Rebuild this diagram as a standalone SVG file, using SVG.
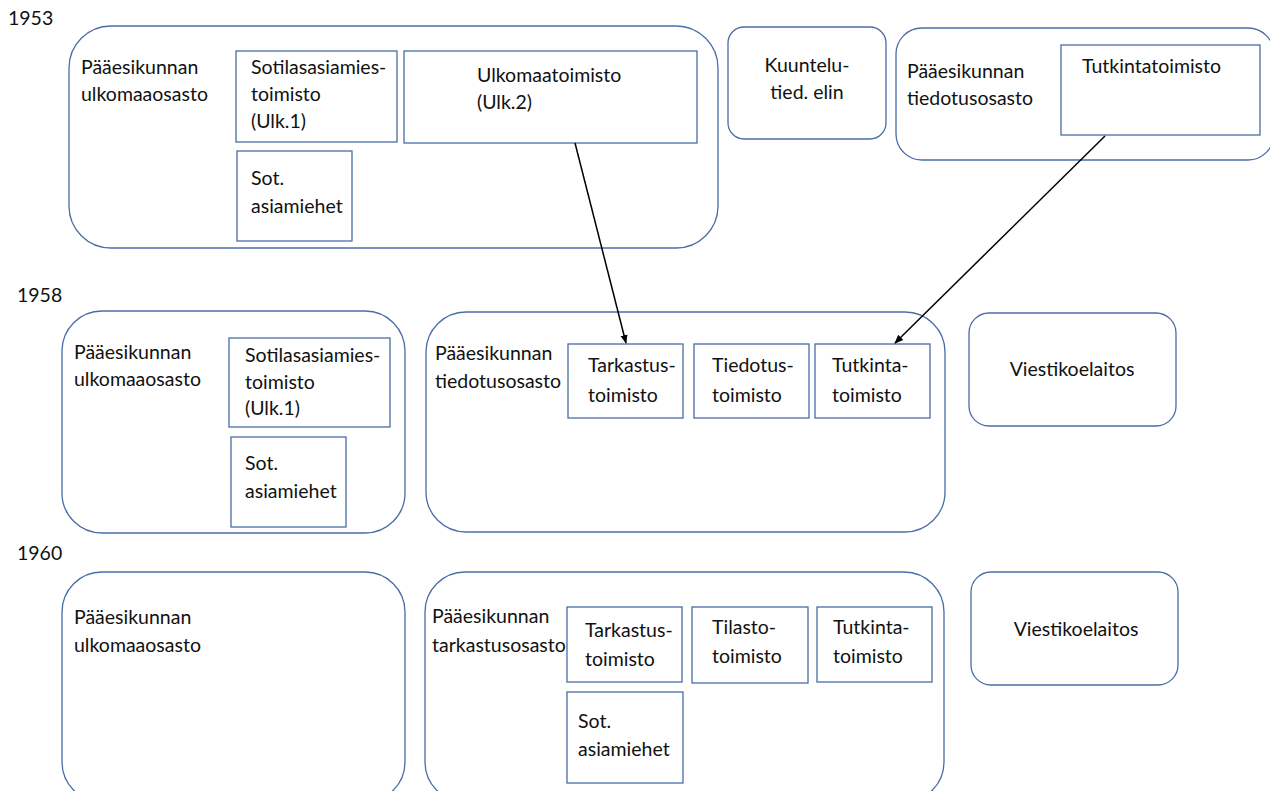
<svg xmlns="http://www.w3.org/2000/svg" width="1270" height="791" viewBox="0 0 1270 791">
<style>
.big{fill:#fff;stroke:#4a6da7;stroke-width:1.3}
.box{fill:#fff;stroke:#4a6da7;stroke-width:1.3}
text{font-family:Lato,"Liberation Sans",sans-serif;font-size:19.5px;fill:#111}
.c{text-anchor:middle}
.conn{stroke:#000;stroke-width:1.5;fill:none;marker-end:url(#ah)}
</style>
<defs>
<marker id="ah" viewBox="0 0 10 10" refX="9" refY="5" markerWidth="6" markerHeight="6" orient="auto" markerUnits="strokeWidth">
<path d="M0,1 L10,5 L0,9 z" fill="#000"/>
</marker>
</defs>
<rect width="1270" height="791" fill="#fff"/>
<g id="years">
<text x="8" y="25">1953</text>
<text x="17" y="302">1958</text>
<text x="17" y="560">1960</text>
</g>
<!-- 1953 -->
<g id="n53-ulko">
<rect class="big" x="69" y="26" width="649" height="222" rx="42"/>
<text x="81" y="74">Pääesikunnan</text>
<text x="81" y="101">ulkomaaosasto</text>
</g>
<g id="n53-sotilas">
<rect class="box" x="236" y="51" width="161" height="91"/>
<text x="251" y="74">Sotilasasiamies-</text>
<text x="251" y="101">toimisto</text>
<text x="251" y="128">(Ulk.1)</text>
</g>
<g id="n53-sot">
<rect class="box" x="237" y="151" width="115" height="90"/>
<text x="251" y="185">Sot.</text>
<text x="251" y="213">asiamiehet</text>
</g>
<g id="n53-ulk2">
<rect class="box" x="404" y="51" width="293" height="92"/>
<text x="477" y="82">Ulkomaatoimisto</text>
<text x="477" y="109">(Ulk.2)</text>
</g>
<g id="n53-kuuntelu">
<rect class="big" x="728" y="27" width="158" height="112" rx="16"/>
<text class="c" x="807" y="72">Kuuntelu-</text>
<text class="c" x="807" y="99">tied. elin</text>
</g>
<g id="n53-tiedotus">
<rect class="big" x="896" y="28" width="378" height="132" rx="26"/>
<text x="907" y="78">Pääesikunnan</text>
<text x="907" y="105">tiedotusosasto</text>
</g>
<g id="n53-tutkinta">
<rect class="box" x="1061" y="45" width="199" height="90"/>
<text x="1082" y="73">Tutkintatoimisto</text>
</g>
<!-- 1958 -->
<g id="n58-ulko">
<rect class="big" x="62" y="311" width="343" height="222" rx="40"/>
<text x="74" y="359">Pääesikunnan</text>
<text x="74" y="386">ulkomaaosasto</text>
</g>
<g id="n58-sotilas">
<rect class="box" x="229" y="338" width="161" height="89"/>
<text x="245" y="362">Sotilasasiamies-</text>
<text x="245" y="389">toimisto</text>
<text x="245" y="415">(Ulk.1)</text>
</g>
<g id="n58-sot">
<rect class="box" x="231" y="437" width="115" height="90"/>
<text x="245" y="470">Sot.</text>
<text x="245" y="498">asiamiehet</text>
</g>
<g id="n58-tiedotus">
<rect class="big" x="426" y="312" width="519" height="220" rx="40"/>
<text x="435" y="360">Pääesikunnan</text>
<text x="435" y="388">tiedotusosasto</text>
</g>
<g id="n58-tarkastus">
<rect class="box" x="568" y="344" width="115" height="74"/>
<text x="588" y="372">Tarkastus-</text>
<text x="588" y="402">toimisto</text>
</g>
<g id="n58-tiedotus-t">
<rect class="box" x="694" y="344" width="115" height="74"/>
<text x="712" y="372">Tiedotus-</text>
<text x="712" y="402">toimisto</text>
</g>
<g id="n58-tutkinta">
<rect class="box" x="815" y="344" width="115" height="74"/>
<text x="832" y="372">Tutkinta-</text>
<text x="832" y="402">toimisto</text>
</g>
<g id="n58-viesti">
<rect class="big" x="969" y="313" width="207" height="113" rx="20"/>
<text class="c" x="1072" y="376">Viestikoelaitos</text>
</g>
<!-- 1960 -->
<g id="n60-ulko">
<rect class="big" x="62" y="572" width="343" height="230" rx="40"/>
<text x="74" y="624">Pääesikunnan</text>
<text x="74" y="652">ulkomaaosasto</text>
</g>
<g id="n60-tarkastusosasto">
<rect class="big" x="425" y="572" width="519" height="230" rx="40"/>
<text x="432" y="623">Pääesikunnan</text>
<text x="432" y="652">tarkastusosasto</text>
</g>
<g id="n60-tarkastus">
<rect class="box" x="567" y="607" width="115" height="75"/>
<text x="585" y="637">Tarkastus-</text>
<text x="585" y="666">toimisto</text>
</g>
<g id="n60-tilasto">
<rect class="box" x="692" y="607" width="116" height="76"/>
<text x="712" y="634">Tilasto-</text>
<text x="712" y="663">toimisto</text>
</g>
<g id="n60-tutkinta">
<rect class="box" x="817" y="607" width="115" height="75"/>
<text x="833" y="634">Tutkinta-</text>
<text x="833" y="663">toimisto</text>
</g>
<g id="n60-sot">
<rect class="box" x="567" y="692" width="116" height="91"/>
<text x="578" y="728">Sot.</text>
<text x="578" y="756">asiamiehet</text>
</g>
<g id="n60-viesti">
<rect class="big" x="971" y="572" width="207" height="113" rx="20"/>
<text class="c" x="1076" y="636">Viestikoelaitos</text>
</g>
<g id="connectors">
<line class="conn" x1="575" y1="143" x2="626" y2="343"/>
<line class="conn" x1="1105" y1="136" x2="895" y2="343"/>
</g>
</svg>
